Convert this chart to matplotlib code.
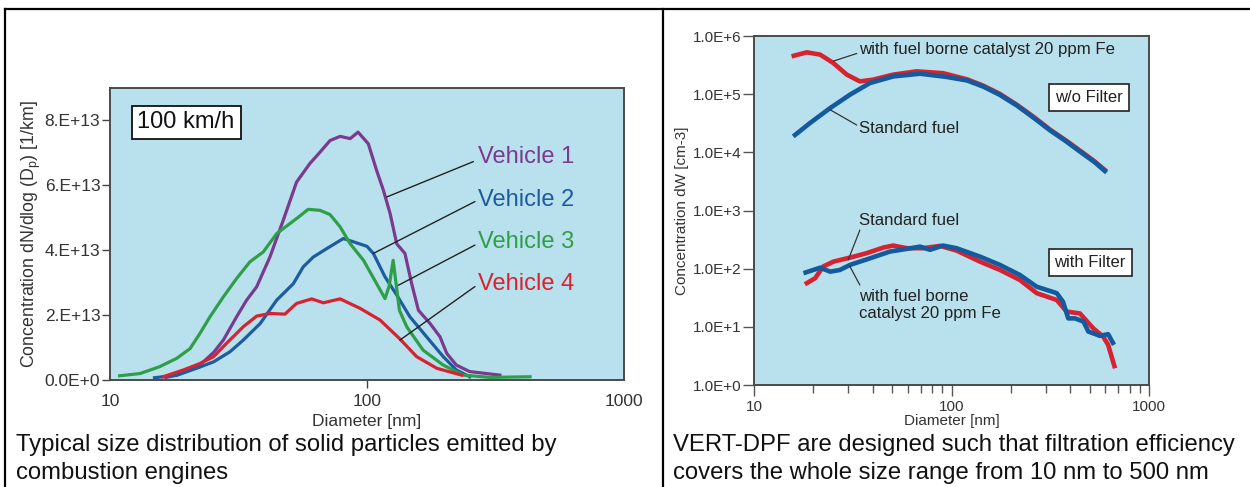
import numpy as np
import matplotlib.pyplot as plt
from matplotlib.lines import Line2D
from matplotlib.ticker import LogLocator, NullFormatter, FixedLocator

plt.rcParams['font.family'] = ['Liberation Sans', 'DejaVu Sans']

# ----------------------------------------------------------------------
# data
# ----------------------------------------------------------------------

# left: size distribution at 100 km/h, concentration in 1E13 1/km
veh1_d = [16.5, 18.2, 20.5, 23.0, 25.3, 27.6, 31.1, 34.0, 37.2, 41.9, 47.2, 53.2,
          59.9, 65.6, 71.8, 78.6, 86.0, 92.3, 101.2, 109, 115.8, 123, 130.5,
          140.5, 149.2, 158.5, 176, 192.4, 204.3, 222.6, 250.8, 329]
veh1_c = [0.08, 0.15, 0.3, 0.55, 0.85, 1.23, 1.95, 2.46, 2.87, 3.79, 4.92, 6.10,
          6.67, 7.02, 7.38, 7.51, 7.44, 7.64, 7.28, 6.46, 5.85, 5.13, 4.2,
          3.9, 2.97, 2.15, 1.74, 1.33, 0.82, 0.46, 0.26, 0.15]

veh2_d = [14.9, 18.2, 21.7, 25.3, 29.3, 33.0, 38.4, 44.5, 51.7, 56.5, 61.8, 69.7,
          80.9, 88.5, 100, 105.9, 117.5, 130.5, 146.8, 170.6, 198, 222.6, 250.8]
veh2_c = [0.07, 0.15, 0.36, 0.56, 0.87, 1.23, 1.74, 2.46, 2.97, 3.49, 3.79, 4.05,
          4.36, 4.26, 4.12, 3.9, 3.18, 2.62, 1.95, 1.33, 0.72, 0.31, 0.1]

veh3_d = [10.9, 13.1, 15.6, 18.2, 20.5, 22.4, 24.5, 27.6, 31.1, 35.0, 39.5, 44.5,
          50.1, 54.1, 59.0, 65.6, 71.8, 78.6, 86.0, 96.9, 109, 117.5, 122, 126.4,
          133.7, 142.8, 165.3, 198, 237, 301, 431]
veh3_c = [0.13, 0.2, 0.41, 0.67, 0.97, 1.44, 1.95, 2.56, 3.13, 3.64, 3.95, 4.51,
          4.82, 5.02, 5.26, 5.23, 5.1, 4.72, 4.2, 3.69, 2.97, 2.51, 2.9, 3.69,
          2.15, 1.64, 0.92, 0.46, 0.15, 0.08, 0.1]

veh4_d = [16.1, 19.3, 22.4, 25.3, 28.4, 33.0, 37.2, 41.9, 47.9, 53.2, 60.9, 67.6,
          78.6, 93.9, 112.3, 133.7, 156, 187, 233.5]
veh4_c = [0.1, 0.31, 0.51, 0.72, 1.13, 1.64, 1.97, 2.05, 2.03, 2.36, 2.5, 2.38,
          2.5, 2.21, 1.85, 1.28, 0.72, 0.36, 0.15]

left_yticks = [0, 2, 4, 6, 8]
left_ylabels = ['0.0E+0', '2.E+13', '4.E+13', '6.E+13', '8.E+13']

# right: VERT-DPF, concentration dW in cm-3
nof_fbc_d = [15.5, 18.5, 21.6, 25.2, 29.5, 34.4, 40.1, 50.7, 66.6, 90.6, 120,
             144.9, 175, 214, 260, 316, 380, 466, 530, 610]
nof_fbc_v = [4.48e5, 5.25e5, 4.8e5, 3.44e5, 2.17e5, 1.66e5, 1.78e5, 2.17e5,
             2.47e5, 2.3e5, 1.8e5, 1.4e5, 1.02e5, 6.6e4, 4.1e4, 2.45e4, 1.6e4,
             9.7e3, 7.0e3, 4.7e3]

nof_std_d = [15.8, 19.2, 24.3, 30.6, 38.7, 50.7, 69.3, 94.5, 120, 144.9, 175,
             214, 260, 316, 380, 466, 530, 610]
nof_std_v = [1.88e4, 3.19e4, 5.78e4, 9.8e4, 1.56e5, 2.02e5, 2.25e5, 1.98e5,
             1.72e5, 1.35e5, 9.8e4, 6.4e4, 3.95e4, 2.38e4, 1.55e4, 9.3e3, 6.8e3,
             4.5e3]

wf_fbc_d = [18.1, 20.4, 22.4, 25.2, 30.6, 37.2, 45.2, 50.7, 59.4, 72.0, 87.4,
            106, 139.6, 176, 222, 270, 341, 383, 447, 521, 586, 621, 673]
wf_fbc_v = [54, 68.6, 109, 132, 155, 185, 231, 250, 225, 225, 247,
            205, 132, 95, 64, 38, 29, 18.3, 17, 9.5, 6.8, 4.9, 1.94]

wf_std_d = [17.8, 21.6, 24.3, 27.2, 30.6, 38.7, 48.8, 59.4, 69.3, 77.8, 90.6,
            106, 139.6, 176, 222, 270, 341, 367, 390, 422, 466, 493, 565, 621, 665]
wf_std_v = [83.6, 104, 89, 95, 116, 151, 197, 219, 240, 211, 250,
            225, 161, 116, 78, 49, 38, 27, 14, 14, 12.3, 8.3, 7, 7.5, 4.9]

right_yticks = [1, 1e1, 1e2, 1e3, 1e4, 1e5, 1e6]
right_ylabels = ['1.0E+0', '1.0E+1', '1.0E+2', '1.0E+3', '1.0E+4', '1.0E+5', '1.0E+6']

x_ticks = [10, 100, 1000]
x_labels = ['10', '100', '1000']

left_caption = ['Typical size distribution of solid particles emitted by',
                'combustion engines']
right_caption = ['VERT-DPF are designed such that filtration efficiency',
                 'covers the whole size range from 10 nm to 500 nm']

# ----------------------------------------------------------------------
# figure
# ----------------------------------------------------------------------

bg = '#b9e1ed'
txt = '#333333'
c_purple = '#7a3a8e'
c_blue = '#1d5c9e'
c_green = '#2e9e48'
c_red = '#d8222f'
c_dblue = '#135a9e'

fig = plt.figure(figsize=(12.5, 4.87), dpi=100)

# table frame lines
fig.add_artist(Line2D([0.004, 1.0], [0.9815, 0.9815], color='k', lw=1.6))
fig.add_artist(Line2D([0.004, 0.004], [0.0, 0.9815], color='k', lw=1.6))
fig.add_artist(Line2D([0.5304, 0.5304], [0.0, 0.9815], color='k', lw=1.6))

# ---------------- left panel ----------------
ax = fig.add_axes([0.088, 0.2197, 0.4112, 0.5996])
ax.set_facecolor(bg)
ax.set_xscale('log')
ax.set_xlim(10, 1000)
ax.set_ylim(0, 9.0)

ax.plot(veh1_d, veh1_c, color=c_purple, lw=2.3)
ax.plot(veh2_d, veh2_c, color=c_blue, lw=2.3)
ax.plot(veh3_d, veh3_c, color=c_green, lw=2.3)
ax.plot(veh4_d, veh4_c, color=c_red, lw=2.3)

ax.xaxis.set_major_locator(FixedLocator(x_ticks))
ax.xaxis.set_minor_locator(FixedLocator([]))
ax.set_xticklabels(x_labels)
ax.set_yticks(left_yticks)
ax.set_yticklabels(left_ylabels)
ax.tick_params(axis='both', direction='out', length=6, width=1, color='#444',
               labelsize=12.5, labelcolor=txt, pad=1)
ax.tick_params(axis='x', pad=4)
for i in (0, 2):
    ax.xaxis.get_major_ticks()[i].tick1line.set_visible(False)
for s in ax.spines.values():
    s.set_color('#4a4a4a')
    s.set_linewidth(1.4)

ax.set_xlabel('Diameter [nm]', fontsize=12.5, color=txt, labelpad=4)
ax.set_ylabel(r'Concentration dN/dlog (D$_\mathregular{p}$) [1/km]',
              fontsize=12.8, color=txt, labelpad=1.5)

ax.text(0.148, 0.882, '100 km/h', transform=ax.transAxes, fontsize=17,
        ha='center', va='center', color='#111',
        bbox=dict(boxstyle='square,pad=0.25', fc='white', ec='#111', lw=1.3))

veh_names = ['Vehicle 1', 'Vehicle 2', 'Vehicle 3', 'Vehicle 4']
veh_cols = [c_purple, c_blue, c_green, c_red]
veh_text_y = [0.764, 0.616, 0.473, 0.329]
veh_lead_from = [(0.707, 0.748), (0.710, 0.611), (0.710, 0.462), (0.710, 0.320)]
veh_lead_to = [(119.3, 5.64), (105.8, 3.90), (132.4, 2.92), (134.3, 1.23)]
for name, col, ty, fr, to in zip(veh_names, veh_cols, veh_text_y,
                                 veh_lead_from, veh_lead_to):
    ax.text(0.716, ty, name, transform=ax.transAxes, fontsize=17, color=col,
            ha='left', va='center')
    ax.annotate('', xy=to, xycoords='data', xytext=fr, textcoords='axes fraction',
                arrowprops=dict(arrowstyle='-', color='#222', lw=1.0,
                                shrinkA=0, shrinkB=0))

# ---------------- right panel ----------------
ax2 = fig.add_axes([0.6032, 0.2094, 0.316, 0.7166])
ax2.set_facecolor(bg)
ax2.set_xscale('log')
ax2.set_yscale('log')
ax2.set_xlim(10, 1000)
ax2.set_ylim(1, 1e6)

ax2.plot(nof_fbc_d, nof_fbc_v, color=c_red, lw=3.3, solid_capstyle='butt')
ax2.plot(nof_std_d, nof_std_v, color=c_dblue, lw=3.3, solid_capstyle='butt')
ax2.plot(wf_fbc_d, wf_fbc_v, color=c_red, lw=3.3, solid_capstyle='butt')
ax2.plot(wf_std_d, wf_std_v, color=c_dblue, lw=3.3, solid_capstyle='butt')

ax2.xaxis.set_major_locator(FixedLocator(x_ticks))
ax2.set_xticklabels(x_labels)
ax2.xaxis.set_minor_locator(LogLocator(base=10, subs=np.arange(2, 10)))
ax2.xaxis.set_minor_formatter(NullFormatter())
ax2.yaxis.set_major_locator(FixedLocator(right_yticks))
ax2.set_yticklabels(right_ylabels)
ax2.yaxis.set_minor_locator(FixedLocator([]))
ax2.tick_params(axis='both', which='major', direction='out', length=8, width=1,
                color='#555', labelsize=11, labelcolor=txt, pad=1)
ax2.tick_params(axis='x', which='minor', direction='out', length=6, width=1,
                color='#555')
ax2.tick_params(axis='x', which='major', pad=3)
for s in ax2.spines.values():
    s.set_color('#4a4a4a')
    s.set_linewidth(1.4)

ax2.set_xlabel('Diameter [nm]', fontsize=11, color=txt, labelpad=0)
ax2.set_ylabel('Concentration dW [cm-3]', fontsize=11, color=txt, labelpad=3)

lab_kw = dict(transform=ax2.transAxes, fontsize=12.1, color='#222',
              ha='left', va='center')
lead_kw = dict(arrowstyle='-', color='#333', lw=0.9, shrinkA=0, shrinkB=0)

ax2.text(0.266, 0.962, 'with fuel borne catalyst 20 ppm Fe', **lab_kw)
ax2.annotate('', xy=(25.2, 3.7e5), xytext=(0.26, 0.950),
             textcoords='axes fraction', arrowprops=lead_kw)
ax2.text(0.266, 0.7355, 'Standard fuel', **lab_kw)
ax2.annotate('', xy=(24.3, 5.4e4), xytext=(0.26, 0.745),
             textcoords='axes fraction', arrowprops=lead_kw)
ax2.text(0.266, 0.471, 'Standard fuel', **lab_kw)
ax2.annotate('', xy=(30.0, 142), xytext=(0.268, 0.444),
             textcoords='axes fraction', arrowprops=lead_kw)
ax2.text(0.266, 0.229, 'with fuel borne\ncatalyst 20 ppm Fe', linespacing=1.2,
         **lab_kw)
ax2.annotate('', xy=(30.6, 109), xytext=(0.268, 0.2865),
             textcoords='axes fraction', arrowprops=lead_kw)

box_kw = dict(boxstyle='square,pad=0.35', fc='white', ec='#222', lw=1.2)
ax2.text(0.848, 0.824, 'w/o Filter', transform=ax2.transAxes, fontsize=12,
         color='#222', ha='center', va='center', bbox=box_kw)
ax2.text(0.851, 0.351, 'with Filter', transform=ax2.transAxes, fontsize=12,
         color='#222', ha='center', va='center', bbox=box_kw)

# captions, one text per line
for x0, lines in ((0.0128, left_caption), (0.5384, right_caption)):
    for y0, line in zip((0.0862, 0.0287), lines):
        fig.text(x0, y0, line, fontsize=17.2, color='#111', ha='left',
                 va='center')

fig.savefig('out.png', dpi=100)
plt.close()
